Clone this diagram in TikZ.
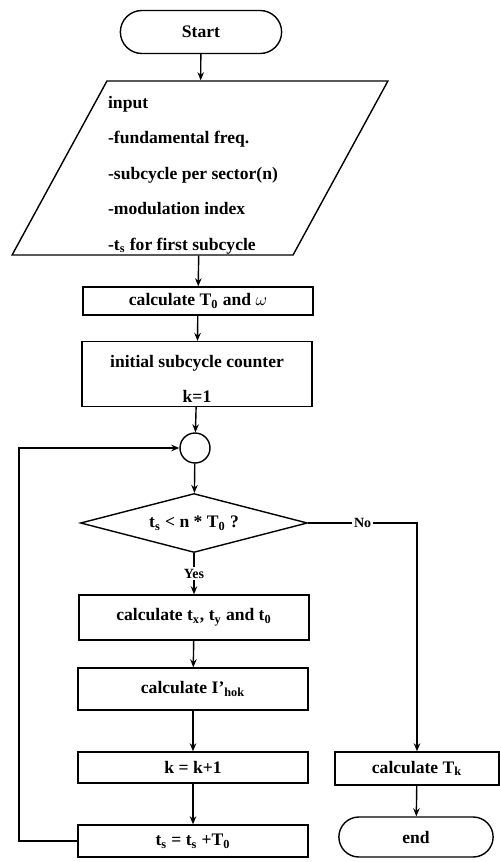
\documentclass[tikz,border=0pt]{standalone}
\usepackage{fontspec}
\setmainfont{Liberation Serif}
\usetikzlibrary{arrows.meta,shapes.geometric,shapes.misc}

\begin{document}
\begin{tikzpicture}[x=0.02cm, y=-0.02cm, line width=0.8pt,
  font=\fontsize{10}{12}\selectfont\bfseries,
  arr/.style={-{Stealth[length=1.6mm,width=1.3mm]}},
  term/.style={draw, rounded rectangle, minimum height=0.86cm},
  proc/.style={draw, rectangle, minimum width=4.6cm, inner sep=2pt},
  lbl/.style={fill=white, inner sep=1pt, font=\fontsize{8}{10}\selectfont\bfseries}]
\useasboundingbox (0,0) rectangle (500,862);
% Start and input
\node[term, minimum width=3.46cm] (start) at (201,32) {Start};
\node[draw, trapezium, trapezium left angle=63, trapezium right angle=117,
  trapezium stretches=true, minimum width=7.52cm, minimum height=3.48cm,
  inner sep=3pt] (input) at (200,168) {};
\node[align=left, font=\fontsize{10}{20.2}\selectfont\bfseries] (inputtext) at (193,175)
  {input\\-fundamental freq.\\-subcycle per sector(n)\\-modulation index\\-t\textsubscript{s} for first subcycle};
% Initialisation
\node[proc, minimum height=0.56cm] (period) at (198,301) {calculate T\textsubscript{0} and $\omega$};
\node[proc, minimum height=1.16cm, align=center, font=\fontsize{10}{19.9}\selectfont\bfseries]
  (init) at (197,374) {\rule{0pt}{13pt}initial subcycle counter\\k=1};
% Loop head and test
\node[draw, circle, minimum size=0.6cm, inner sep=0pt] (join) at (195,448) {};
\node[draw, diamond, aspect=3.85, minimum width=4.54cm, minimum height=1.18cm, inner sep=0pt]
  (test) at (194,523) {t\textsubscript{s} < n * T\textsubscript{0} ?};
% Loop body
\node[proc, minimum height=0.9cm] (times) at (194,617.5) {calculate t\textsubscript{x}, t\textsubscript{y} and t\textsubscript{0}};
\node[proc, minimum height=0.84cm] (ihok) at (193,689) {calculate I'\textsubscript{hok}};
\node[proc, minimum height=0.62cm] (incr) at (193,767.5) {k = k+1};
\node[proc, minimum height=0.64cm] (tsnext) at (193,841) {t\textsubscript{s} = t\textsubscript{s} +T\textsubscript{0}};
\coordinate (back) at (19,841);
% Exit branch
\node[proc, minimum width=3.28cm, minimum height=0.66cm] (tk) at (417,768.5) {calculate T\textsubscript{k}};
\node[term, minimum width=3.32cm, minimum height=0.8cm] (end) at (416,837) {end};
% Connectors
\draw[arr] (start) -- (input);
\draw[arr] (input) -- (period);
\draw[arr] (period) -- (init);
\draw[arr] (init) -- (join);
\draw[arr] (join) -- (test);
\draw[arr] (test.south) -- node[lbl] {Yes} (times.north);
\draw[arr] (times) -- (ihok);
\draw[arr] (ihok) -- (incr);
\draw[arr] (incr) -- (tsnext);
\draw[arr] (tsnext) -- (back) |- (join);
\draw[arr] (test.east) -- node[lbl] {No} (test.east -| tk.north) -- (tk.north);
\draw[arr] (tk) -- (end);
\end{tikzpicture}
\end{document}
